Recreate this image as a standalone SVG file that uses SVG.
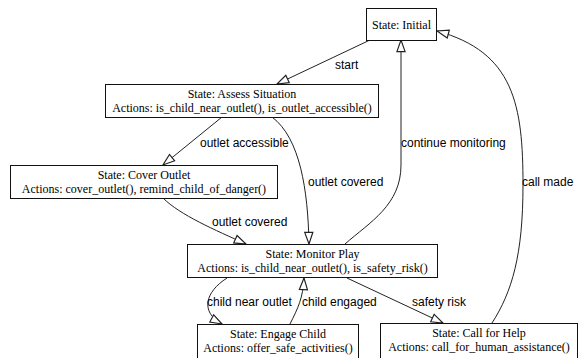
<svg xmlns="http://www.w3.org/2000/svg" width="581" height="358" viewBox="0 0 581 358">
<defs>
<marker id="arr" markerUnits="userSpaceOnUse" markerWidth="14" markerHeight="11" viewBox="-1 -1 12 9" refX="10" refY="3.5" orient="auto" overflow="visible">
<path d="M0,0 L10,3.5 L0,7 Z" fill="#fff" stroke="#222" stroke-width="1"/>
</marker>
<style>
.n rect{fill:#fff;stroke:#111;stroke-width:1}
.n text{font-family:"Liberation Serif","Times New Roman",serif;font-size:12px;fill:#000;text-anchor:middle}
.e path{fill:none;stroke:#222;stroke-width:1;marker-end:url(#arr)}
.l{font-family:"Liberation Sans",Arial,sans-serif;font-size:12px;fill:#000}
</style>
</defs>
<rect width="581" height="358" fill="#fff"/>
<g id="edges" class="e">
<path d="M370,40 L277,84"/>
<path d="M222,117 L163,165"/>
<path d="M272,117 C300,138 308,190 309,244"/>
<path d="M163,198 C180,215 215,230 246,244"/>
<path d="M345,244 C370,222 401,205 401,165 L401,40"/>
<path d="M492,323 C512,292 523,255 523,185 C523,105 514,52 437,31"/>
<path d="M227,278 C205,292 200,312 222,324"/>
<path d="M290,324 C298,308 303,298 304,278"/>
<path d="M347,278 L443,323"/>
</g>
<g id="edge-labels">
<text class="l" x="335" y="69">start</text>
<text class="l" x="200" y="147">outlet accessible</text>
<text class="l" x="308" y="186">outlet covered</text>
<text class="l" x="212" y="226">outlet covered</text>
<text class="l" x="401" y="147">continue monitoring</text>
<text class="l" x="522" y="186">call made</text>
<text class="l" x="207" y="306">child near outlet</text>
<text class="l" x="302" y="306">child engaged</text>
<text class="l" x="412" y="306">safety risk</text>
</g>
<g id="initial" class="n">
<rect x="366.5" y="8.5" width="70" height="32"/>
<text x="401.5" y="28.5">State: Initial</text>
</g>
<g id="assess" class="n">
<rect x="105.5" y="84.5" width="273" height="33"/>
<text x="242" y="98">State: Assess Situation</text>
<text x="242" y="112">Actions: is_child_near_outlet(), is_outlet_accessible()</text>
</g>
<g id="cover" class="n">
<rect x="10.5" y="165.5" width="267" height="33"/>
<text x="144" y="179">State: Cover Outlet</text>
<text x="144" y="193">Actions: cover_outlet(), remind_child_of_danger()</text>
</g>
<g id="monitor" class="n">
<rect x="187.5" y="244.5" width="250" height="33"/>
<text x="312.5" y="258">State: Monitor Play</text>
<text x="312.5" y="272">Actions: is_child_near_outlet(), is_safety_risk()</text>
</g>
<g id="engage" class="n">
<rect x="197.5" y="324.5" width="161" height="34"/>
<text x="278" y="338">State: Engage Child</text>
<text x="278" y="352">Actions: offer_safe_activities()</text>
</g>
<g id="callhelp" class="n">
<rect x="380.5" y="323.5" width="197" height="35"/>
<text x="479" y="337">State: Call for Help</text>
<text x="479" y="351">Actions: call_for_human_assistance()</text>
</g>
</svg>
